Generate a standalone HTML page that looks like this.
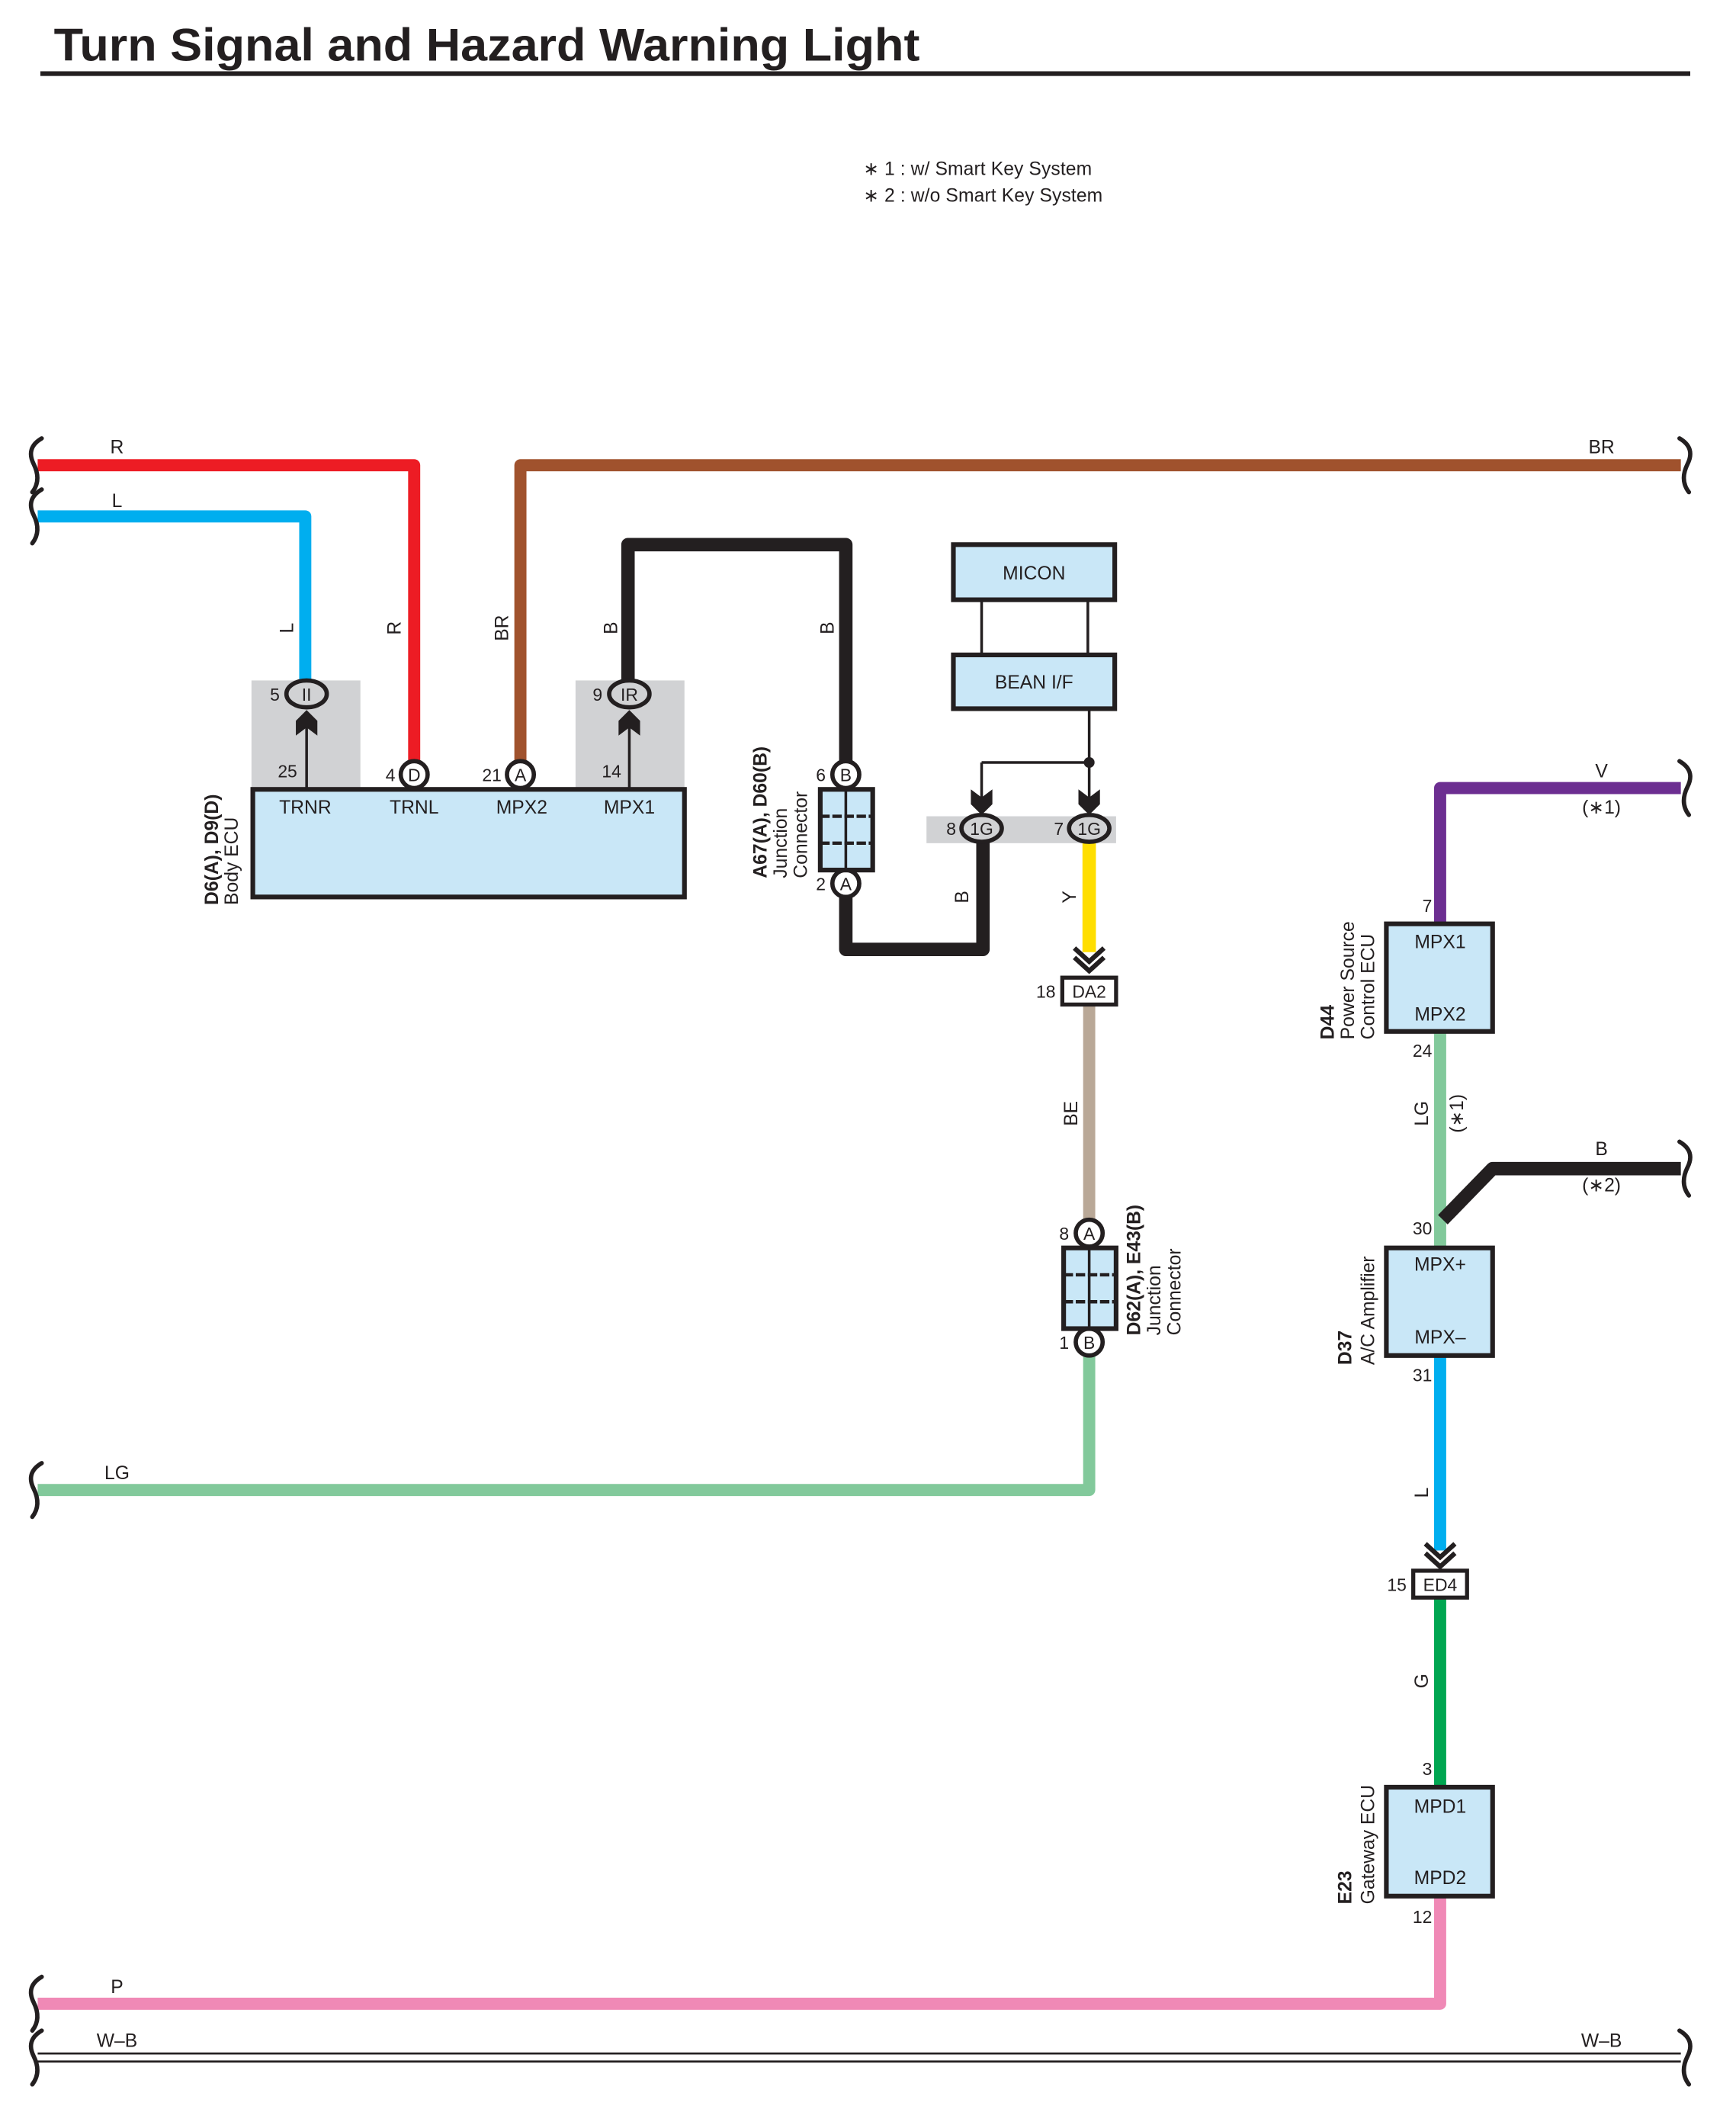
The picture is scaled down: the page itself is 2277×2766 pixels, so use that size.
<!DOCTYPE html>
<html><head><meta charset="utf-8"><style>
html,body{margin:0;padding:0;background:#fff;}
svg{display:block;}
text{font-family:"Liberation Sans",Arial,sans-serif;fill:#231f20;}
</style></head><body>
<svg width="2277" height="2766" viewBox="0 0 1291 1568.3" xmlns="http://www.w3.org/2000/svg">
<defs>
<path id="brL" d="M31,-20 Q19,-13 25,-1 Q31,11 24,20" fill="none" stroke="#231f20" stroke-width="3.2" stroke-linecap="round"/>
<path id="brR" d="M1249,-20 Q1261,-13 1255,-1 Q1249,11 1256,20" fill="none" stroke="#231f20" stroke-width="3.2" stroke-linecap="round"/>
</defs>
<!-- Title -->
<text x="40" y="45" font-size="34" font-weight="bold" textLength="644" lengthAdjust="spacingAndGlyphs">Turn Signal and Hazard Warning Light</text>
<rect x="30" y="53" width="1227" height="3.5" fill="#231f20"/>
<text x="642" y="130" font-size="14" textLength="170">∗ 1 : w/ Smart Key System</text>
<text x="642" y="150" font-size="14" textLength="178">∗ 2 : w/o Smart Key System</text>

<!-- gray areas -->
<rect x="187" y="506" width="81" height="81" fill="#d1d2d4"/>
<rect x="428" y="506" width="81" height="81" fill="#d1d2d4"/>
<rect x="689" y="607" width="141" height="20" fill="#d1d2d4"/>

<!-- wires -->
<g fill="none" stroke-linejoin="round">
<path d="M28,346 H308 V570" stroke="#ed1c24" stroke-width="9"/>
<path d="M28,384 H227 V508" stroke="#00aeef" stroke-width="9"/>
<path d="M387,570 V346 H1250" stroke="#a0522d" stroke-width="9"/>
<path d="M467,508 V405 H629 V570" stroke="#231f20" stroke-width="10"/>
<path d="M629,662 V706 H731 V622" stroke="#231f20" stroke-width="10"/>
<path d="M810,622 V708" stroke="#ffde00" stroke-width="10"/>
<path d="M810,747 V910" stroke="#b9a897" stroke-width="9"/>
<path d="M810,1004 V1108 H28" stroke="#82c99b" stroke-width="9"/>
<path d="M1250,586 H1071 V687" stroke="#6c2e91" stroke-width="9"/>
<path d="M1071,767 V927" stroke="#82c99b" stroke-width="9"/>
<path d="M1073,907 L1110,869 H1250" stroke="#231f20" stroke-width="10"/>
<path d="M1071,1008 V1153" stroke="#00aeef" stroke-width="9"/>
<path d="M1071,1188 V1328" stroke="#00a651" stroke-width="9"/>
<path d="M1071,1410 V1490 H28" stroke="#f089b6" stroke-width="9"/>
</g>
<line x1="28" y1="1527" x2="1250" y2="1527" stroke="#231f20" stroke-width="1.5"/>
<line x1="28" y1="1533" x2="1250" y2="1533" stroke="#231f20" stroke-width="1.5"/>

<use href="#brL" transform="translate(0,346)"/>
<use href="#brL" transform="translate(0,384)"/>
<use href="#brL" transform="translate(0,1108)"/>
<use href="#brL" transform="translate(0,1490)"/>
<use href="#brL" transform="translate(0,1530)"/>
<use href="#brR" transform="translate(0,346)"/>
<use href="#brR" transform="translate(0,586)"/>
<use href="#brR" transform="translate(0,869)"/>
<use href="#brR" transform="translate(0,1530)"/>

<!-- Body ECU -->
<rect x="188" y="587" width="321" height="80" fill="#c9e7f7" stroke="#231f20" stroke-width="3.5"/>
<g font-size="14" text-anchor="middle">
<text x="227" y="605">TRNR</text><text x="308" y="605">TRNL</text><text x="388" y="605">MPX2</text><text x="468" y="605">MPX1</text>
</g>
<g stroke="#231f20" stroke-width="2" fill="none">
<line x1="228" y1="587" x2="228" y2="535"/>
<line x1="468" y1="587" x2="468" y2="535"/>
<line x1="730" y1="567" x2="810" y2="567"/>
<line x1="730" y1="567" x2="730" y2="595"/>
<line x1="810" y1="527" x2="810" y2="595"/>
<line x1="730" y1="446" x2="730" y2="487"/>
<line x1="809" y1="446" x2="809" y2="487"/>
</g>
<circle cx="810" cy="567" r="4" fill="#231f20"/>
<g fill="#231f20">
<path d="M228,528 L236,536 V547 L228,541 L220,547 V536 Z"/>
<path d="M468,528 L476,536 V547 L468,541 L460,547 V536 Z"/>
<path d="M730,606 L738,598 V587 L730,593 L722,587 V598 Z"/>
<path d="M810,606 L818,598 V587 L810,593 L802,587 V598 Z"/>
</g>
<g fill="none" stroke="#231f20" stroke-width="3.5">
<path d="M799,705 L810,715 L821,705"/><path d="M799,712 L810,722 L821,712"/>
<path d="M1060,1148 L1071,1158 L1082,1148"/><path d="M1060,1155 L1071,1165 L1082,1155"/>
</g>

<g stroke="#231f20" stroke-width="3.2">
<ellipse cx="228" cy="516" rx="15" ry="10" fill="#d1d2d4"/>
<ellipse cx="468" cy="516" rx="15" ry="10" fill="#d1d2d4"/>
<ellipse cx="308" cy="576" rx="10" ry="10" fill="#fff"/>
<ellipse cx="387" cy="576" rx="10" ry="10" fill="#fff"/>
<ellipse cx="629" cy="576" rx="10" ry="10" fill="#fff"/>
<ellipse cx="629" cy="657" rx="10" ry="10" fill="#fff"/>
<ellipse cx="730" cy="616" rx="15" ry="10" fill="#d1d2d4"/>
<ellipse cx="810" cy="616" rx="15" ry="10" fill="#d1d2d4"/>
<ellipse cx="810" cy="917" rx="10" ry="10" fill="#fff"/>
<ellipse cx="810" cy="998" rx="10" ry="10" fill="#fff"/>
</g>
<g font-size="13" text-anchor="middle">
<text x="228" y="521">II</text><text x="468" y="521">IR</text>
<text x="308" y="581">D</text><text x="387" y="581">A</text>
<text x="629" y="581">B</text><text x="629" y="662">A</text>
<text x="730" y="621">1G</text><text x="810" y="621">1G</text>
<text x="810" y="922">A</text><text x="810" y="1003">B</text>
</g>
<g font-size="13" text-anchor="end">
<text x="208" y="521">5</text><text x="221" y="578">25</text><text x="294" y="581">4</text><text x="373" y="581">21</text>
<text x="448" y="521">9</text><text x="462" y="578">14</text>
<text x="614" y="581">6</text><text x="614" y="662">2</text>
<text x="711" y="621">8</text><text x="791" y="621">7</text>
<text x="785" y="742">18</text>
<text x="795" y="922">8</text><text x="795" y="1003">1</text>
<text x="1065" y="678">7</text><text x="1065" y="786">24</text>
<text x="1065" y="918">30</text><text x="1065" y="1027">31</text>
<text x="1046" y="1183">15</text>
<text x="1065" y="1320">3</text><text x="1065" y="1430">12</text>
</g>

<g stroke="#231f20">
<rect x="610" y="587" width="39" height="60" fill="#c9e7f7" stroke-width="3.5"/>
<line x1="629" y1="587" x2="629" y2="647" stroke-width="2"/>
<line x1="610" y1="607" x2="649" y2="607" stroke-width="2.5" stroke-dasharray="7,2"/>
<line x1="610" y1="627" x2="649" y2="627" stroke-width="2.5" stroke-dasharray="7,2"/>
<rect x="791" y="928" width="39" height="60" fill="#c9e7f7" stroke-width="3.5"/>
<line x1="810" y1="928" x2="810" y2="988" stroke-width="2"/>
<line x1="791" y1="948" x2="830" y2="948" stroke-width="2.5" stroke-dasharray="7,2"/>
<line x1="791" y1="968" x2="830" y2="968" stroke-width="2.5" stroke-dasharray="7,2"/>
</g>

<rect x="709" y="405" width="120" height="41" fill="#c9e7f7" stroke="#231f20" stroke-width="3.5"/>
<rect x="709" y="487" width="120" height="40" fill="#c9e7f7" stroke="#231f20" stroke-width="3.5"/>
<text x="769" y="431" font-size="14" text-anchor="middle">MICON</text>
<text x="769" y="512" font-size="14" text-anchor="middle">BEAN I/F</text>

<rect x="790" y="727" width="40" height="20" fill="#fff" stroke="#231f20" stroke-width="3"/>
<text x="810" y="742" font-size="13" text-anchor="middle">DA2</text>
<rect x="1051" y="1168" width="40" height="20" fill="#fff" stroke="#231f20" stroke-width="3"/>
<text x="1071" y="1183" font-size="13" text-anchor="middle">ED4</text>

<g fill="#c9e7f7" stroke="#231f20" stroke-width="3.5">
<rect x="1031" y="687" width="79" height="80"/>
<rect x="1031" y="928" width="79" height="80"/>
<rect x="1031" y="1329" width="79" height="81"/>
</g>
<g font-size="14" text-anchor="middle">
<text x="1071" y="705">MPX1</text><text x="1071" y="759">MPX2</text>
<text x="1071" y="945">MPX+</text><text x="1071" y="999">MPX–</text>
<text x="1071" y="1348">MPD1</text><text x="1071" y="1401">MPD2</text>
</g>

<g font-size="14" text-anchor="middle">
<text x="87" y="337">R</text><text x="87" y="377">L</text><text x="1191" y="337">BR</text>
<text x="1191" y="578">V</text><text x="1191" y="605">(∗1)</text>
<text x="1191" y="859">B</text><text x="1191" y="886">(∗2)</text>
<text x="87" y="1100">LG</text><text x="87" y="1482">P</text>
<text x="87" y="1522">W–B</text><text x="1191" y="1522">W–B</text>
</g>
<g font-size="14" text-anchor="middle">
<text transform="translate(218,467) rotate(-90)">L</text>
<text transform="translate(298,467) rotate(-90)">R</text>
<text transform="translate(378,467) rotate(-90)">BR</text>
<text transform="translate(459,467) rotate(-90)">B</text>
<text transform="translate(620,467) rotate(-90)">B</text>
<text transform="translate(720,667) rotate(-90)">B</text>
<text transform="translate(800,667) rotate(-90)">Y</text>
<text transform="translate(801,828) rotate(-90)">BE</text>
<text transform="translate(1062,828) rotate(-90)">LG</text>
<text transform="translate(1088,828) rotate(-90)">(∗1)</text>
<text transform="translate(1062,1110) rotate(-90)">L</text>
<text transform="translate(1062,1250) rotate(-90)">G</text>
</g>
<g font-size="14">
<text transform="translate(162,673) rotate(-90)" font-weight="bold">D6(A), D9(D)</text>
<text transform="translate(177,673) rotate(-90)">Body ECU</text>
<text transform="translate(570,653) rotate(-90)" font-weight="bold">A67(A), D60(B)</text>
<text transform="translate(585,653) rotate(-90)">Junction</text>
<text transform="translate(600,653) rotate(-90)">Connector</text>
<text transform="translate(848,993) rotate(-90)" font-weight="bold">D62(A), E43(B)</text>
<text transform="translate(863,993) rotate(-90)">Junction</text>
<text transform="translate(878,993) rotate(-90)">Connector</text>
<text transform="translate(992,773) rotate(-90)" font-weight="bold">D44</text>
<text transform="translate(1007,773) rotate(-90)">Power Source</text>
<text transform="translate(1022,773) rotate(-90)">Control ECU</text>
<text transform="translate(1005,1015) rotate(-90)" font-weight="bold">D37</text>
<text transform="translate(1022,1015) rotate(-90)">A/C Amplifier</text>
<text transform="translate(1005,1416) rotate(-90)" font-weight="bold">E23</text>
<text transform="translate(1022,1416) rotate(-90)">Gateway ECU</text>
</g>
</svg>
</body></html>
